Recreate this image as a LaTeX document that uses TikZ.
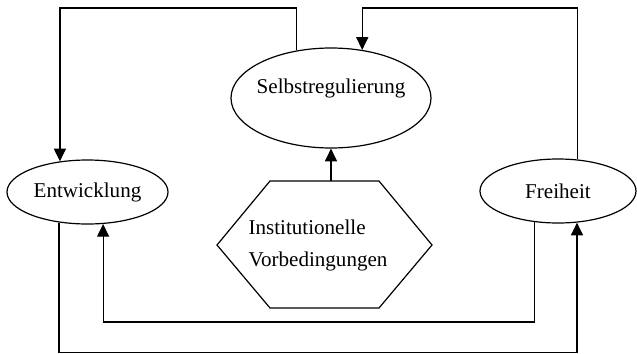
\documentclass[tikz,border=0pt]{standalone}
\usepackage{fontspec}
\setmainfont{Liberation Serif}
\usetikzlibrary{arrows.meta,shapes.geometric}
\begin{document}
\begin{tikzpicture}[x=0.75pt,y=-0.75pt,
  ell/.style={draw,ellipse,line width=0.9pt,inner sep=0pt},
  lbl/.style={font=\fontsize{15.8}{24}\selectfont},
  conn/.style={line width=0.9pt},
  arr/.style={conn,-{Triangle[width=9pt,length=9.5pt]}}]
\useasboundingbox (0,0) rectangle (637,354);
% nodes
\node[ell,minimum width=150pt,minimum height=75pt] (S) at (331,98) {};
\node[lbl] (St) at (331,88) {Selbstregulierung};
\node[ell,minimum width=120.75pt,minimum height=48pt,lbl] (E) at (87.5,192) {Entwicklung};
\node[ell,minimum width=117pt,minimum height=48pt,lbl] (F) at (558,191) {Freiheit};
\draw[line width=0.9pt] (217,245) -- (270,181) -- (379,181) -- (432,245) -- (379,308) -- (270,308) -- cycle;
\node[lbl,align=left] (H) at (318,245) {Institutionelle\\Vorbedingungen};
\coordinate (Htop) at (331,181);
\coordinate (top) at (0,8);
\coordinate (inbot) at (0,322);
\coordinate (outbot) at (0,352.5);
% connectors
\draw[arr] (Htop) -- (S.south);
\draw[arr] (S.126.8) -- (S.126.8 |- top) -| (E.132.4);
\draw[arr] (F.58.5) -- (F.58.5 |- top) -| (S.57.8);
\draw[arr] (F.233.1) -- (F.233.1 |- inbot) -| (E.296.3);
\draw[arr] (E.227.6) -- (E.227.6 |- outbot) -| (F.301.5);
\end{tikzpicture}
\end{document}
